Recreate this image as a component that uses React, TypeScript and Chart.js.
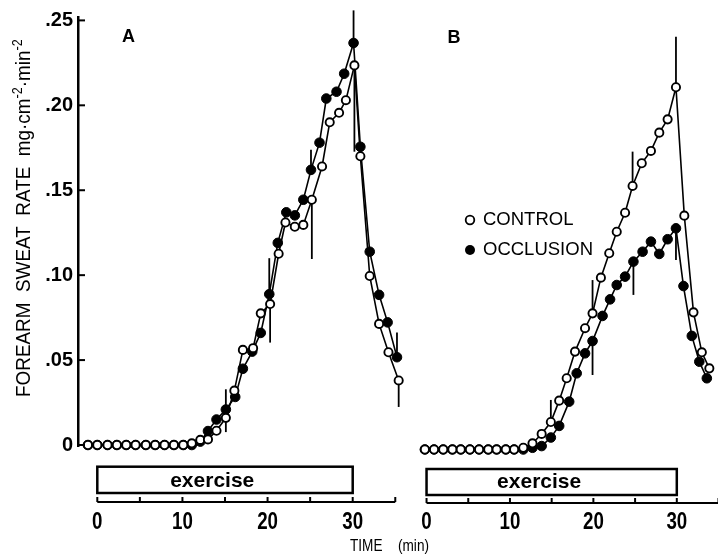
import React, { useEffect, useRef } from "react";
import { Chart, registerables } from "chart.js";

Chart.register(...registerables);

const FONT = '"Liberation Sans", Arial, Helvetica, sans-serif';

// ---- axes / labels ----
const Y_TICKS = [0, 0.05, 0.1, 0.15, 0.2, 0.25];
const Y_TICK_LABELS = ["0", ".05", ".10", ".15", ".20", ".25"];
const TIME_TICKS = [0, 5, 10, 15, 20, 25, 30, 35];
const TIME_LABELS = [0, 10, 20, 30];
const EXERCISE_START = 0;
const EXERCISE_END = 30;
const EXERCISE_LABEL_T = 13.5;
const Y_TITLE: [string, boolean][] = [
  ["FOREARM  SWEAT  RATE  mg\u00B7cm", false],
  ["-2", true],
  ["\u00B7min", false],
  ["-2", true],
];
const LEGEND_LABELS = ["CONTROL", "OCCLUSION"];

// ---- Panel A ----
const A_CTRL_T = [-1.1, 0, 1.2, 2.3, 3.4, 4.5, 5.7, 6.8, 7.9, 9, 10.1, 11.1, 12.1, 13, 14, 15.1, 16.1, 17.1, 18.3, 19.2, 20.3, 21.3, 22.1, 23.2, 24.2, 25.2, 26.4, 27.3, 28.4, 29.2, 30.2, 30.9, 32, 33.1, 34.2, 35.4];
const A_CTRL_V = [0, 0, 0, 0, 0, 0, 0, 0, 0, 0, 0, 0.001, 0.003, 0.0033, 0.0084, 0.016, 0.032, 0.056, 0.057, 0.0775, 0.083, 0.1126, 0.131, 0.1285, 0.1296, 0.1444, 0.164, 0.19, 0.1956, 0.203, 0.2235, 0.17, 0.0995, 0.0713, 0.0546, 0.038];
const A_OCCL_T = [-1.1, 0, 1.2, 2.3, 3.4, 4.5, 5.7, 6.8, 7.9, 9, 10.1, 11.1, 12.1, 13, 14, 15.1, 16.2, 17.1, 18.2, 19.2, 20.2, 21.2, 22.2, 23.2, 24.2, 25.1, 26.1, 26.9, 28.1, 29, 30.1, 30.9, 32, 33.1, 34.1, 35.2];
const A_OCCL_V = [0, 0, 0, 0, 0, 0, 0, 0, 0, 0, 0, 0, 0.002, 0.0082, 0.015, 0.0209, 0.0283, 0.0449, 0.055, 0.066, 0.0888, 0.119, 0.137, 0.1352, 0.1444, 0.162, 0.178, 0.204, 0.208, 0.2186, 0.2367, 0.1756, 0.1138, 0.0884, 0.0722, 0.0517];
const A_CTRL_ERR_T = [15.1, 20.3, 25.2, 30.2, 35.4];
const A_CTRL_ERR_END = [0.0076, 0.0603, 0.1095, 0.1727, 0.0224];
const A_OCCL_ERR_T = [15.1, 20.2, 25.1, 30.1, 35.2];
const A_OCCL_ERR_END = [0.0328, 0.11, 0.1739, 0.2559, 0.0663];

// ---- Panel B ----
const B_CTRL_T = [-0.2, 0.9, 2, 3.1, 4.1, 5.2, 6.3, 7.4, 8.4, 9.5, 10.5, 11.6, 12.7, 13.8, 14.9, 15.9, 16.8, 17.8, 19, 19.9, 20.9, 21.9, 22.8, 23.8, 24.7, 25.8, 26.9, 27.9, 28.9, 29.9, 30.9, 32, 33, 33.9];
const B_CTRL_V = [0, 0, 0, 0, 0, 0, 0, 0, 0, 0, 0, 0.001, 0.0036, 0.0091, 0.0161, 0.0286, 0.0417, 0.0573, 0.071, 0.0797, 0.1006, 0.1149, 0.1275, 0.1386, 0.1543, 0.1676, 0.1748, 0.1855, 0.1933, 0.2121, 0.1369, 0.0803, 0.0569, 0.0475];
const B_OCCL_T = [-0.2, 0.9, 2, 3.1, 4.1, 5.2, 6.3, 7.4, 8.4, 9.5, 10.5, 11.6, 12.7, 13.8, 14.9, 15.9, 17.1, 18, 19, 19.9, 21.1, 22, 22.8, 23.8, 24.8, 25.9, 26.9, 27.9, 28.9, 29.9, 30.8, 31.8, 32.7, 33.6];
const B_OCCL_V = [0, 0, 0, 0, 0, 0, 0, 0, 0, 0, 0, 0, 0.001, 0.002, 0.007, 0.0138, 0.028, 0.0446, 0.0563, 0.0635, 0.0782, 0.0879, 0.0963, 0.1012, 0.11, 0.1158, 0.1217, 0.1145, 0.1231, 0.1295, 0.0957, 0.0665, 0.0514, 0.0417];
const B_CTRL_ERR_T = [14.9, 19.9, 24.7, 29.9];
const B_CTRL_ERR_END = [0.029, 0.0992, 0.1744, 0.2417];
const B_OCCL_ERR_T = [19.9, 24.8, 29.9];
const B_OCCL_ERR_END = [0.0436, 0.0905, 0.111];

function condText(ctx: any, text: string, x: number, y: number, font: string, sx: number, align: string) {
  ctx.save();
  ctx.font = font;
  ctx.textBaseline = "middle";
  ctx.textAlign = "left";
  ctx.fillStyle = "#000";
  const w = ctx.measureText(text).width * sx;
  let left = x;
  if (align === "center") left = x - w / 2;
  else if (align === "right") left = x - w;
  ctx.translate(left, y);
  ctx.scale(sx, 1);
  ctx.fillText(text, 0, 0);
  ctx.restore();
}

function drawErrorBars(chart: any, series: any[]) {
  const ctx = chart.ctx;
  const xs = chart.scales.x;
  const ys = chart.scales.y;
  ctx.save();
  ctx.strokeStyle = "#000";
  ctx.lineWidth = 1.8;
  for (const [T, V, ET, EE] of series) {
    ET.forEach((t: number, i: number) => {
      const idx = T.indexOf(t);
      if (idx < 0) return;
      const x = xs.getPixelForValue(t);
      ctx.beginPath();
      ctx.moveTo(x, ys.getPixelForValue(V[idx]));
      ctx.lineTo(x, ys.getPixelForValue(EE[i]));
      ctx.stroke();
    });
  }
  ctx.restore();
}

function drawTimeAxis(chart: any, axisY: number, boxTop: number, boxBottom: number, labelY: number, textY: number) {
  const ctx = chart.ctx;
  const xs = chart.scales.x;
  const px = (t: number) => xs.getPixelForValue(t);
  ctx.save();
  ctx.strokeStyle = "#000";
  ctx.lineWidth = 2;
  ctx.beginPath();
  ctx.moveTo(px(TIME_TICKS[0]), axisY);
  ctx.lineTo(px(TIME_TICKS[TIME_TICKS.length - 1]), axisY);
  ctx.stroke();
  TIME_TICKS.forEach((t) => {
    ctx.beginPath();
    ctx.moveTo(px(t), axisY);
    ctx.lineTo(px(t), axisY - 5);
    ctx.stroke();
  });
  TIME_LABELS.forEach((t) => condText(ctx, String(t), px(t), labelY, `bold 24px ${FONT}`, 0.78, "center"));
  ctx.lineWidth = 2.5;
  ctx.strokeRect(px(EXERCISE_START), boxTop, px(EXERCISE_END) - px(EXERCISE_START), boxBottom - boxTop);
  condText(ctx, "exercise", px(EXERCISE_LABEL_T), textY, `bold 21px ${FONT}`, 1, "center");
  ctx.restore();
}

function drawYTitle(ctx: any) {
  ctx.save();
  ctx.translate(24.5, 397);
  ctx.rotate(-Math.PI / 2);
  ctx.textBaseline = "middle";
  ctx.textAlign = "left";
  ctx.fillStyle = "#000";
  const sx = 0.9;
  let x = 0;
  for (const [txt, sup] of Y_TITLE) {
    ctx.font = `${sup ? 14 : 21}px ${FONT}`;
    const w = ctx.measureText(txt).width * sx;
    ctx.save();
    ctx.translate(x, sup ? -6 : 0);
    ctx.scale(sx, 1);
    ctx.fillText(txt, 0, 0);
    ctx.restore();
    x += w;
  }
  ctx.restore();
}

function pts(t: number[], v: number[]) {
  return t.map((x, i) => ({ x, y: v[i] }));
}

function makeDatasets(cT: number[], cV: number[], oT: number[], oV: number[]) {
  return [
    {
      label: LEGEND_LABELS[0],
      data: pts(cT, cV),
      borderColor: "#000",
      borderWidth: 1.6,
      pointRadius: 4.1,
      pointHoverRadius: 4.1,
      pointBackgroundColor: "#fff",
      pointBorderColor: "#000",
      pointBorderWidth: 1.9,
      order: 0,
      clip: false,
      fill: false,
      tension: 0,
    },
    {
      label: LEGEND_LABELS[1],
      data: pts(oT, oV),
      borderColor: "#000",
      borderWidth: 1.6,
      pointRadius: 4.8,
      pointHoverRadius: 4.8,
      pointBackgroundColor: "#000",
      pointBorderColor: "#000",
      pointBorderWidth: 1,
      order: 1,
      clip: false,
      fill: false,
      tension: 0,
    },
  ];
}

export default function App() {
  const refA = useRef<HTMLCanvasElement>(null);
  const refB = useRef<HTMLCanvasElement>(null);

  useEffect(() => {
    const decorA = {
      id: "decorA",
      beforeDatasetsDraw(chart: any) {
        drawErrorBars(chart, [
          [A_CTRL_T, A_CTRL_V, A_CTRL_ERR_T, A_CTRL_ERR_END],
          [A_OCCL_T, A_OCCL_V, A_OCCL_ERR_T, A_OCCL_ERR_END],
        ]);
      },
      afterDraw(chart: any) {
        const ctx = chart.ctx;
        const ys = chart.scales.y;
        const left = chart.chartArea.left;
        ctx.save();
        ctx.strokeStyle = "#000";
        ctx.lineWidth = 2;
        Y_TICKS.forEach((v) => {
          const y = ys.getPixelForValue(v);
          ctx.beginPath();
          ctx.moveTo(left, y);
          ctx.lineTo(left + 7, y);
          ctx.stroke();
        });
        ctx.restore();
        drawTimeAxis(chart, 502, 466.7, 493, 522, 481);
        drawYTitle(ctx);
        condText(ctx, "A", 128.5, 37, `bold 18px ${FONT}`, 1, "center");
        condText(ctx, "TIME", 350, 546, `17px ${FONT}`, 0.8, "left");
        condText(ctx, "(min)", 398, 546, `17px ${FONT}`, 0.8, "left");
      },
    };

    const decorB = {
      id: "decorB",
      beforeDatasetsDraw(chart: any) {
        drawErrorBars(chart, [
          [B_CTRL_T, B_CTRL_V, B_CTRL_ERR_T, B_CTRL_ERR_END],
          [B_OCCL_T, B_OCCL_V, B_OCCL_ERR_T, B_OCCL_ERR_END],
        ]);
      },
      afterDraw(chart: any) {
        const ctx = chart.ctx;
        drawTimeAxis(chart, 503, 469, 495, 522, 482.5);
        condText(ctx, "B", 454, 38.5, `bold 18px ${FONT}`, 1, "center");
        // legend
        ctx.save();
        ctx.strokeStyle = "#000";
        ctx.lineWidth = 1.8;
        ctx.fillStyle = "#fff";
        ctx.beginPath();
        ctx.arc(470, 220, 4.3, 0, Math.PI * 2);
        ctx.fill();
        ctx.stroke();
        ctx.fillStyle = "#000";
        ctx.beginPath();
        ctx.arc(470, 250, 5, 0, Math.PI * 2);
        ctx.fill();
        ctx.restore();
        condText(ctx, LEGEND_LABELS[0], 483, 220, `18.5px ${FONT}`, 1, "left");
        condText(ctx, LEGEND_LABELS[1], 483, 250, `18.5px ${FONT}`, 1, "left");
      },
    };

    const chartA = new Chart(refA.current as HTMLCanvasElement, {
      type: "line",
      data: { datasets: makeDatasets(A_CTRL_T, A_CTRL_V, A_OCCL_T, A_OCCL_V) as any },
      options: {
        animation: false,
        responsive: false,
        devicePixelRatio: 1,
        events: [],
        layout: { padding: { left: 0, top: 14.6, right: 308, bottom: 108.3 } },
        plugins: { legend: { display: false }, tooltip: { enabled: false }, title: { display: false } },
        scales: {
          x: { type: "linear", min: -2.267, max: 36.73, display: false },
          y: {
            type: "linear",
            min: -0.001,
            max: 0.252,
            afterBuildTicks: (s: any) => {
              s.ticks = Y_TICKS.map((v) => ({ value: v }));
            },
            afterFit: (s: any) => {
              s.width = 78;
            },
            grid: { display: false, drawTicks: false, tickLength: 0 },
            border: { display: true, color: "#000", width: 2.5 },
            ticks: {
              color: "#000",
              padding: 5,
              autoSkip: false,
              font: { family: FONT, size: 20, weight: "bold" },
              callback: (v: any) => {
                const i = Y_TICKS.findIndex((t) => Math.abs(t - Number(v)) < 1e-9);
                return i >= 0 ? Y_TICK_LABELS[i] : "";
              },
            },
          },
        },
      } as any,
      plugins: [decorA],
    });

    const chartB = new Chart(refB.current as HTMLCanvasElement, {
      type: "line",
      data: { datasets: makeDatasets(B_CTRL_T, B_CTRL_V, B_OCCL_T, B_OCCL_V) as any },
      options: {
        animation: false,
        responsive: false,
        devicePixelRatio: 1,
        events: [],
        layout: { padding: { left: 418.2, top: 19.1, right: 0, bottom: 100.4 } },
        plugins: { legend: { display: false }, tooltip: { enabled: false }, title: { display: false } },
        scales: {
          x: { type: "linear", min: -1.0, max: 34.22, display: false },
          y: { type: "linear", min: -0.003, max: 0.252, display: false },
        },
      } as any,
      plugins: [decorB],
    });

    return () => {
      chartA.destroy();
      chartB.destroy();
    };
  }, []);

  const canvasStyle: React.CSSProperties = { position: "absolute", left: 0, top: 0, width: 718, height: 555 };
  return (
    <div style={{ position: "fixed", left: 0, top: 0, width: 718, height: 555, background: "#fff", overflow: "hidden" }}>
      <canvas ref={refA} width={718} height={555} style={canvasStyle} />
      <canvas ref={refB} width={718} height={555} style={canvasStyle} />
    </div>
  );
}
